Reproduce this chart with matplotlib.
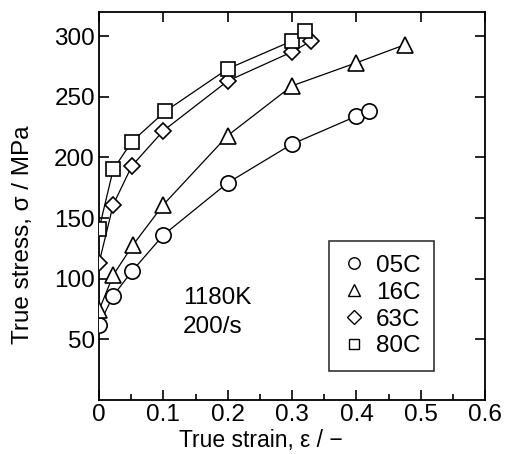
import numpy as np
import matplotlib.pyplot as plt
from matplotlib.ticker import MultipleLocator

plt.rcParams['font.family'] = ['Liberation Sans', 'DejaVu Sans']

# strain / stress
strain_05c = [0.0, 0.022, 0.051, 0.10, 0.20, 0.30, 0.40, 0.42]
stress_05c = [62, 86, 106, 136, 179, 211, 234, 238]
strain_16c = [0.0, 0.022, 0.053, 0.10, 0.20, 0.30, 0.40, 0.476]
stress_16c = [74, 103, 128, 161, 218, 259, 278, 293]
strain_63c = [0.0, 0.022, 0.051, 0.10, 0.20, 0.30, 0.33]
stress_63c = [113, 161, 193, 222, 263, 287, 296]
strain_80c = [0.0, 0.022, 0.051, 0.103, 0.20, 0.30, 0.32]
stress_80c = [141, 190, 213, 238, 273, 296, 304]

labels = ['05C', '16C', '63C', '80C']
markers = ['o', '^', 'D', 's']
sizes = [11, 12, 10, 10.5]
fs = 17.5

fig = plt.figure(figsize=(5.08, 4.54), dpi=100)
ax = fig.add_axes([0.195, 0.119, 0.76, 0.855])

series = [(strain_05c, stress_05c), (strain_16c, stress_16c),
          (strain_63c, stress_63c), (strain_80c, stress_80c)]
for (x, y), lab, m, s in zip(series, labels, markers, sizes):
    ax.plot(x, y, color='black', lw=0.9, marker=m, ms=s if m != 'D' else s * 0.85,
            mfc='white', mec='black', mew=1.2, label=lab, zorder=3)

ax.set_xlim(0, 0.6)
ax.set_ylim(0, 320)
ax.set_xticks(np.arange(0, 0.61, 0.1))
ax.set_xticklabels(['0', '0.1', '0.2', '0.3', '0.4', '0.5', '0.6'])
ax.xaxis.set_minor_locator(MultipleLocator(0.05))
ax.set_yticks([50, 100, 150, 200, 250, 300])
ax.tick_params(which='both', direction='in', top=True, right=True, labelsize=fs, width=1.2)
ax.tick_params(which='major', length=7, pad=3)
ax.tick_params(which='minor', length=4, top=False)
for sp in ax.spines.values():
    sp.set_linewidth(1.3)

ax.set_xlabel('True strain, ε / −', fontsize=16.5)
ax.set_ylabel('True stress, σ / MPa', fontsize=fs)
ax.xaxis.set_label_coords(0.42, -0.074)
ax.yaxis.set_label_coords(-0.168, 0.425)

ax.text(0.13, 84, '1180K', fontsize=fs, va='center')
ax.text(0.13, 60, '200/s', fontsize=fs, va='center')

leg = ax.legend([plt.Line2D([], [], ls='none', marker=m, ms=s * 0.75, mfc='white',
                            mec='black', mew=1.0) for m, s in zip(markers, sizes)],
                labels, loc='lower left', bbox_to_anchor=(0.595, 0.075),
                fontsize=fs, frameon=True, fancybox=False, edgecolor='black',
                handlelength=1.0, handletextpad=0.4, borderpad=0.55, labelspacing=0.2,
                borderaxespad=0)
leg.get_frame().set_linewidth(1.2)

fig.savefig('out.png', dpi=100)
